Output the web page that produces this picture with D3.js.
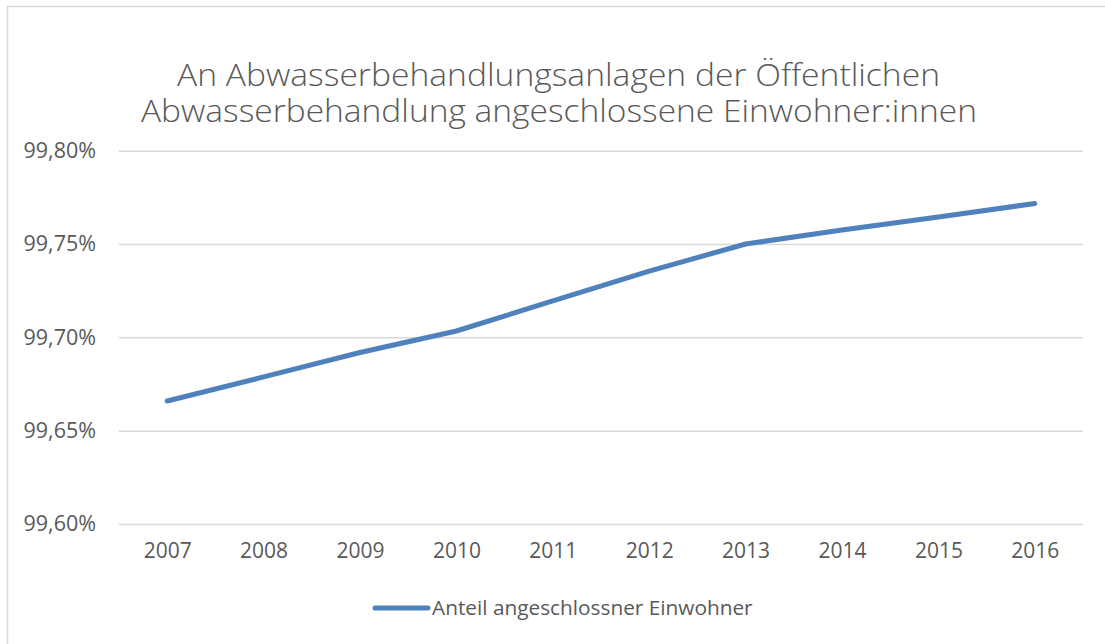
<!DOCTYPE html>
<html>
<head>
<meta charset="utf-8">
<script src="https://cdn.jsdelivr.net/npm/d3@7"></script>
<style>
  body { margin: 0; background: #fff; }
  text { font-family: "Open Sans", sans-serif; fill: #595959; }
</style>
</head>
<body>
<div id="chart"></div>
<script>
const YEARS = ["2007", "2008", "2009", "2010", "2011", "2012", "2013", "2014", "2015", "2016"];
const SHARE = [99.6659, 99.6788, 99.6919, 99.7034, 99.7195, 99.7355, 99.7500, 99.7575, 99.7645, 99.7717]; // % angeschlossen
const Y_TICKS = [99.60, 99.65, 99.70, 99.75, 99.80];
const TITLE_LINES = ["An Abwasserbehandlungsanlagen der Öffentlichen", "Abwasserbehandlung angeschlossene Einwohner:innen"];
const SERIES_NAME = "Anteil angeschlossner Einwohner";

const W = 1105, H = 644;
const LINE_COLOR = "#4f81bd";
const GRID_COLOR = "#d9d9d9";

const de = d3.formatLocale({decimal: ",", thousands: ".", grouping: [3], currency: ["", " €"]});
const fmt = v => de.format(".2f")(v) + "%";

var svg = d3.select("#chart").append("svg")
  .attr("width", W)
  .attr("height", H);

// chart frame (right and bottom edge fall outside the picture)
svg.append("rect")
  .attr("x", 7.5).attr("y", 6.5)
  .attr("width", W + 10).attr("height", H + 10)
  .attr("fill", "none")
  .attr("stroke", GRID_COLOR)
  .attr("stroke-width", 1.5);

var x = d3.scalePoint()
  .domain(YEARS)
  .range([119, 1083])
  .padding(0.5);

var y = d3.scaleLinear()
  .domain([99.6, 99.8])
  .range([524, 150.7]);

// title: thin narrow look of the original, squeezed to the reference widths
var titleWidths = [763, 836];
var titleBase = [86, 122];
var titleX = [558.5, 559];
TITLE_LINES.forEach(function(t, i) {
  svg.append("text")
    .attr("x", titleX[i])
    .attr("y", titleBase[i])
    .attr("text-anchor", "middle")
    .attr("textLength", titleWidths[i])
    .attr("lengthAdjust", "spacingAndGlyphs")
    .style("font-size", "31px")
    .style("font-weight", 300)
    .text(t);
});

// y axis: gridlines + labels
var yAxis = svg.append("g")
  .attr("transform", "translate(119,0)")
  .call(d3.axisLeft(y)
    .tickValues(Y_TICKS)
    .tickSize(-964)
    .tickPadding(23)
    .tickFormat(fmt));
yAxis.select(".domain").remove();
yAxis.selectAll(".tick line").attr("stroke", GRID_COLOR).attr("stroke-width", 1.5);
yAxis.selectAll(".tick text")
  .style("font-size", "21.5px")
  .style("font-family", "'Open Sans', sans-serif")
  .attr("fill", "#595959");

// x axis labels
var xAxis = svg.append("g")
  .attr("transform", "translate(0,524)")
  .call(d3.axisBottom(x).tickSize(0).tickPadding(19));
xAxis.select(".domain").remove();
xAxis.selectAll(".tick text")
  .style("font-size", "21px")
  .style("font-family", "'Open Sans', sans-serif")
  .attr("fill", "#595959");

// the series
var line = d3.line()
  .x((d, i) => x(YEARS[i]))
  .y(d => y(d));

svg.append("path")
  .datum(SHARE)
  .attr("fill", "none")
  .attr("stroke", LINE_COLOR)
  .attr("stroke-width", 5)
  .attr("stroke-linecap", "round")
  .attr("stroke-linejoin", "round")
  .attr("d", line);

// legend
var legend = svg.append("g").attr("transform", "translate(375,608)");
legend.append("line")
  .attr("x1", 0).attr("x2", 53)
  .attr("stroke", LINE_COLOR)
  .attr("stroke-width", 5)
  .attr("stroke-linecap", "round");
legend.append("text")
  .attr("x", 57)
  .attr("dy", "0.35em")
  .style("font-size", "20.8px")
  .text(SERIES_NAME);
</script>
</body>
</html>
